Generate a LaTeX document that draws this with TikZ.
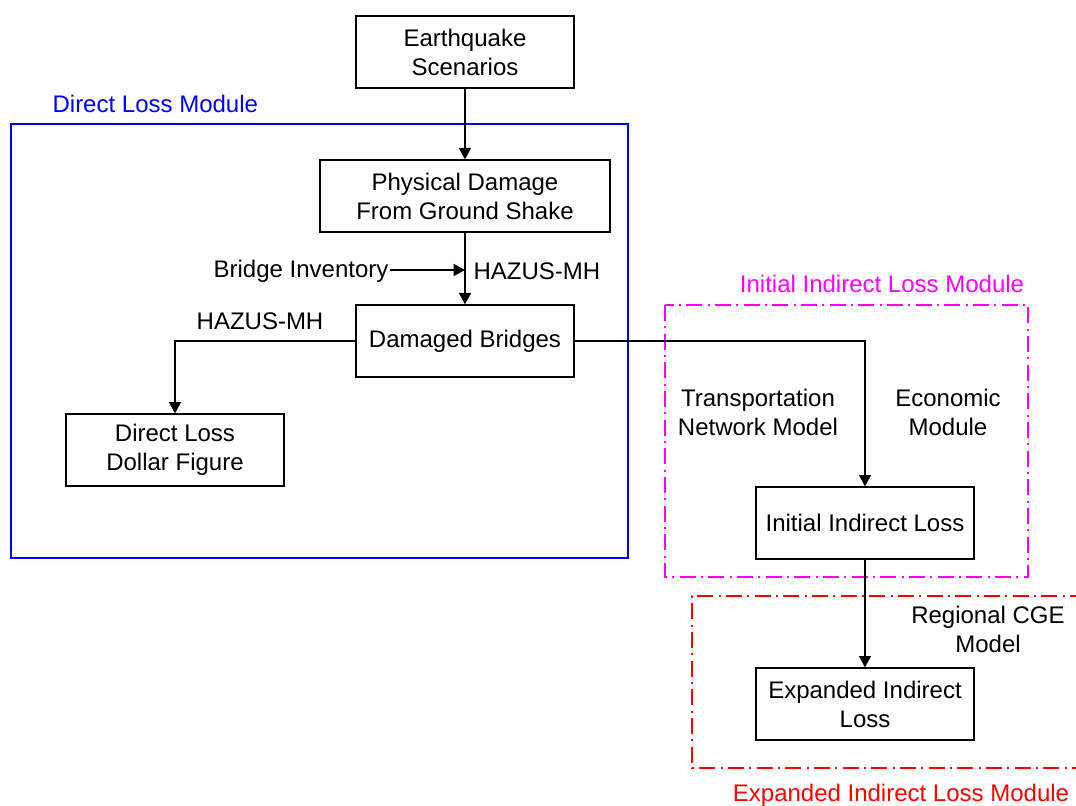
\documentclass[tikz,border=0pt]{standalone}
\usepackage{fontspec}
\setmainfont{Liberation Sans}
\usetikzlibrary{arrows.meta, positioning}
\definecolor{directblue}{RGB}{0, 0, 255}
\definecolor{initialmagenta}{RGB}{255, 0, 255}
\definecolor{expandedred}{RGB}{255, 0, 0}

\begin{document}
\begin{tikzpicture}[x=0.75pt, y=-0.75pt,
        font=\fontsize{18}{21.75}\selectfont,
        stage/.style={draw, line width=1pt, minimum width=163.5pt, minimum height=54pt, align=center, inner sep=2pt},
        note/.style={inner sep=1pt, align=center},
        flow/.style={line width=1pt, -{Triangle[length=8.5pt, width=9pt]}},
        module/.style={line width=1pt},
        dashdot/.style={module, dash pattern=on 12pt off 4pt on 1.5pt off 4pt}
    ]
        \useasboundingbox (0,0) rectangle (1076,806);

        % module frames
        \draw[module, directblue] (11,124) rectangle (628,558);
        \draw[dashdot, initialmagenta] (665,305) rectangle (1028,577);
        \draw[dashdot, expandedred] (1086,596) -- (692,596) -- (692,768) -- (1086,768);

        \node[note, anchor=west, directblue] (directlbl) at (51,104) {Direct Loss Module};
        \node[note, initialmagenta] (initiallbl) at (882,284) {Initial Indirect Loss Module};
        \node[note, expandedred] (expandedlbl) at (901,795) {Expanded Indirect Loss Module};

        % stages
        \node[stage] (quake) at (465,52) {Earthquake\\Scenarios};
        \node[stage, minimum width=217.5pt] (phys) at (465,196) {Physical Damage\\From Ground Shake};
        \node[stage] (dmg) at (465,341) {Damaged Bridges};
        \node[stage] (dlf) at (175,450) {Direct Loss\\Dollar Figure};
        \node[stage] (iil) at (865,523) {Initial Indirect Loss};
        \node[stage] (eil) at (865,704) {Expanded Indirect\\Loss};

        % side notes
        \node[note, anchor=east] (inv) at (390,271) {Bridge Inventory};
        \coordinate (joint) at (465,270);
        \node[note, anchor=west] (hazus1) at (472,271) {HAZUS-MH};
        \node[note] (hazus2) at (260,321) {HAZUS-MH};
        \node[note] (tnm) at (758,412) {Transportation\\Network Model};
        \node[note] (econ) at (948,412) {Economic\\Module};
        \node[note] (cge) at (988,629) {Regional CGE\\Model};

        \draw[flow] (quake) -- (phys);
        \draw[flow] (phys) -- (dmg);
        \draw[flow] (inv.east |- joint) -- (joint);
        \draw[flow] (dmg.west) -| (dlf.north);
        \draw[flow] (dmg.east) -| (iil.north);
        \draw[flow] (iil) -- (eil);
    \end{tikzpicture}
\end{document}
